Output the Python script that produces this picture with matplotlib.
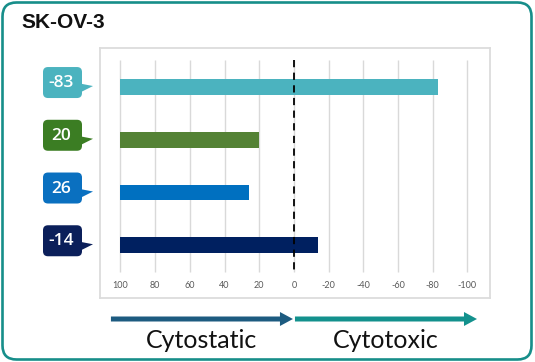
import matplotlib.pyplot as plt
from matplotlib.patches import FancyBboxPatch, Polygon, FancyArrow

title = "SK-OV-3"
values = [-83, 20, 26, -14]
bar_colors = ["#4BB3BF", "#548235", "#0070C0", "#002060"]
bubble_colors = ["#4BB3BF", "#3B7D23", "#0A70C0", "#0B1F5A"]
ticks = [100, 80, 60, 40, 20, 0, -20, -40, -60, -80, -100]
tick_labels = ["100", "80", "60", "40", "20", "0", "-20", "-40", "-60", "-80", "-100"]
arrow_labels = ["Cytostatic", "Cytotoxic"]
arrow_colors = ["#1D5B80", "#13918D"]
base = 100

W, H = 535, 362
fig = plt.figure(figsize=(W / 100, H / 100), dpi=100)

# main chart box (pixels: left 100, top 48, right 490, bottom 298)
ax = fig.add_axes([100 / W, 1 - 298 / H, 390 / W, 250 / H])
ax.set_xlim(111.8, -113)
ax.set_ylim(4.0, -0.74)
ypos = list(range(len(values)))
ax.vlines(ticks, -0.51, 3.51, color="#D9D9D9", lw=1, zorder=0)
ax.barh(ypos, [v - base for v in values], left=base, height=0.3,
        color=bar_colors, zorder=2)
ax.vlines(0, -0.51, 3.51, color="black", lw=1.3, linestyles=(0, (4, 3)), zorder=3)
ax.set_xticks(ticks)
ax.set_xticklabels(tick_labels, fontfamily="Lato")
ax.tick_params(axis="x", length=0, pad=-12.2, labelsize=6.5, labelcolor="#595959")
ax.set_yticks([])
for s in ax.spines.values():
    s.set_color("#DCDCDC")
    s.set_linewidth(1.3)

# overlay in pixel coordinates (y down)
ov = fig.add_axes([0, 0, 1, 1], zorder=5)
ov.set_xlim(0, W)
ov.set_ylim(H, 0)
ov.axis("off")
ov.patch.set_alpha(0)


def to_px(x, y):
    d = ax.transData.transform((x, y))
    return ov.transData.inverted().transform(d)


ov.add_patch(FancyBboxPatch((2.5, 2.5), 529, 357, boxstyle="round,pad=0,rounding_size=14",
                            fill=False, ec="#178E8A", lw=1.9))
ov.text(21, 23, title, fontsize=15, fontweight="bold", fontfamily="Liberation Sans",
        va="center", ha="left", color="#111111")

# value bubbles
for i, v in enumerate(values):
    _, py = to_px(base, ypos[i])
    cy = py - 4.5
    ov.add_patch(FancyBboxPatch((43, cy - 15.5), 39, 31, boxstyle="round,pad=0,rounding_size=5",
                                fc=bubble_colors[i], ec="none"))
    ov.add_patch(Polygon([(80, cy + 1), (93, cy + 3.5), (80, cy + 10)],
                         closed=True, fc=bubble_colors[i], ec="none"))
    ov.text(61.5, cy + 0.5, str(v), color="white", fontsize=12.5, fontfamily="Open Sans",
            fontweight="semibold", ha="center", va="center")

# direction arrows
x_left, _ = to_px(105.5, 0)
x_mid, _ = to_px(0, 0)
x_right, _ = to_px(-105.5, 0)
segs = [(x_left, x_mid - 1), (x_mid + 1, x_right)]
for (a, b), lab, c in zip(segs, arrow_labels, arrow_colors):
    ov.add_patch(FancyArrow(a, 319, b - a, 0, width=5, head_width=14, head_length=13,
                            length_includes_head=True, color=c, lw=0))
    ov.text((a + b) / 2, 341, lab, fontsize=18, fontfamily="Lato", ha="center",
            va="center", color="#111111")

fig.savefig("out.png", dpi=100)
